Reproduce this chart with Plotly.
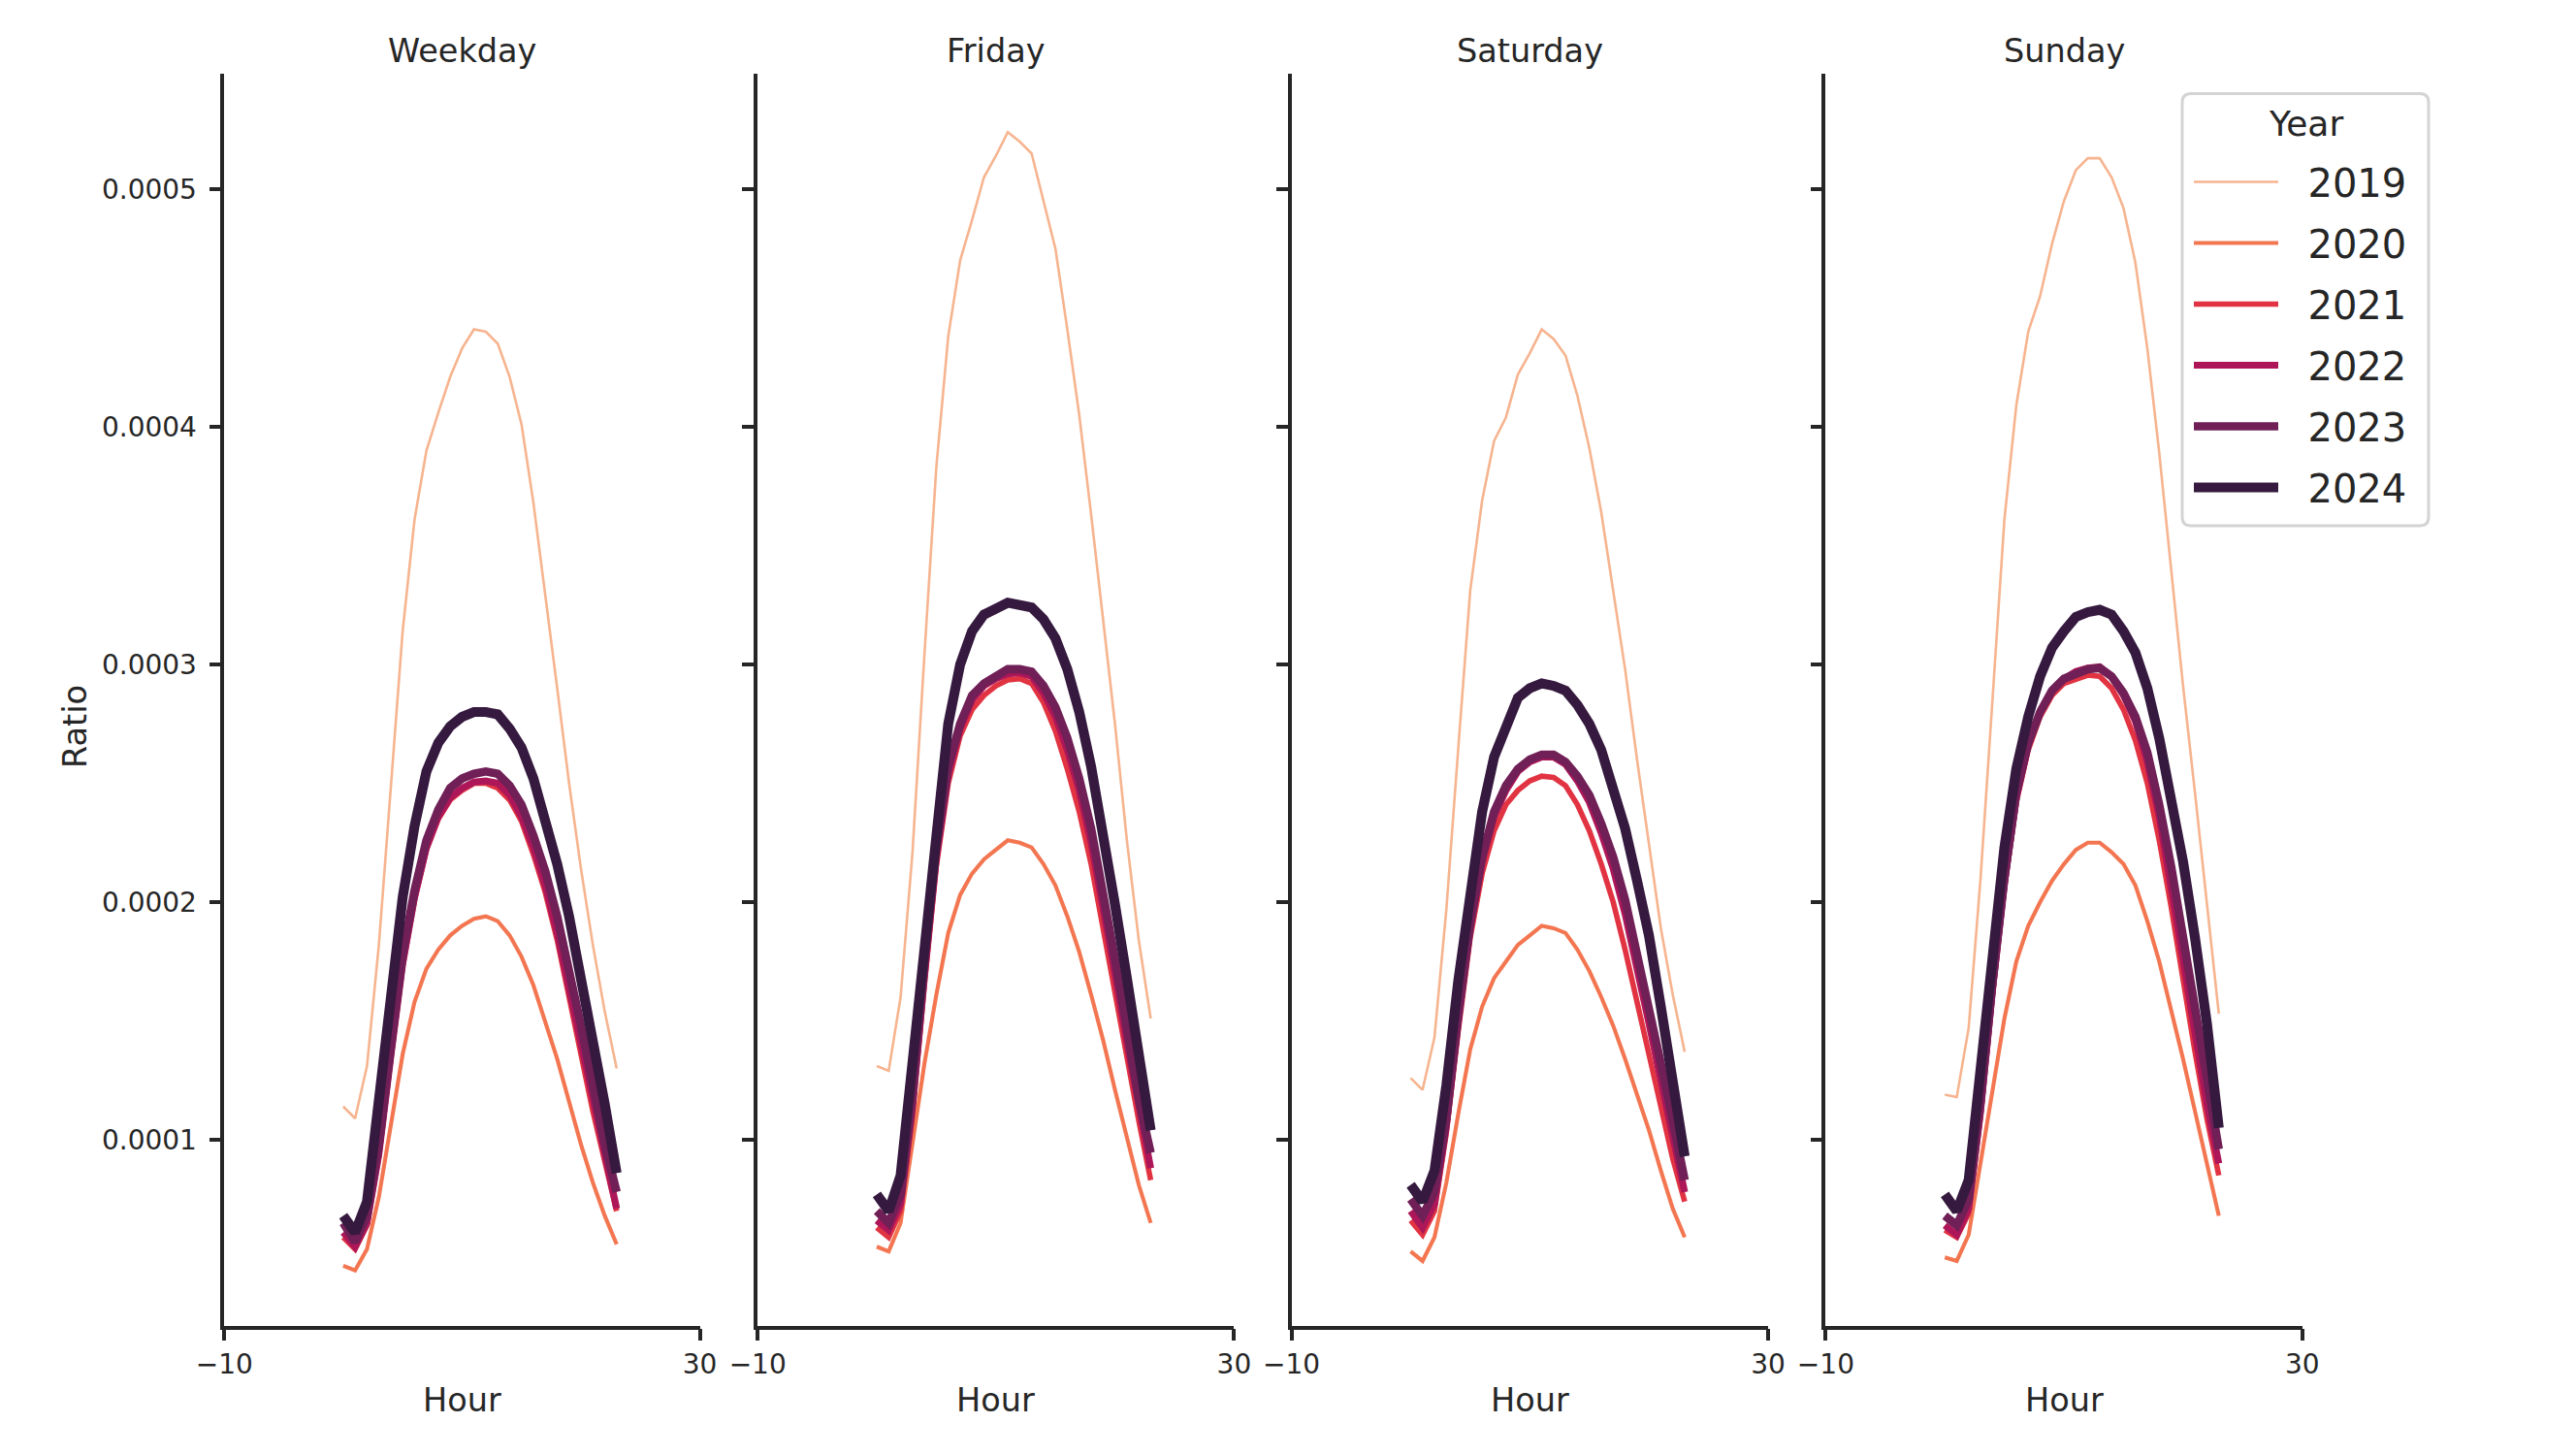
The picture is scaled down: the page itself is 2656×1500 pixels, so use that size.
import plotly.graph_objects as go

# ---------------- data (Ratio values in units of 1e-4) ----------------
SCALE = 1e-4
hours = list(range(24))
years = ["2019", "2020", "2021", "2022", "2023", "2024"]
panels = ["Weekday", "Friday", "Saturday", "Sunday"]

weekday_2019 = [1.14, 1.09, 1.31, 1.82, 2.48, 3.14, 3.61, 3.90, 4.06, 4.21, 4.33, 4.41, 4.40, 4.35, 4.21, 4.01, 3.68, 3.30, 2.90, 2.50, 2.14, 1.82, 1.54, 1.30]
weekday_2020 = [0.47, 0.45, 0.54, 0.76, 1.06, 1.36, 1.58, 1.72, 1.80, 1.86, 1.90, 1.93, 1.94, 1.92, 1.86, 1.77, 1.65, 1.50, 1.34, 1.16, 0.98, 0.82, 0.68, 0.56]
weekday_2021 = [0.59, 0.54, 0.64, 0.93, 1.34, 1.73, 2.01, 2.22, 2.35, 2.43, 2.47, 2.50, 2.50, 2.48, 2.43, 2.34, 2.20, 2.04, 1.84, 1.61, 1.36, 1.12, 0.90, 0.70]
weekday_2022 = [0.61, 0.55, 0.65, 0.94, 1.35, 1.74, 2.02, 2.23, 2.36, 2.44, 2.48, 2.505, 2.51, 2.50, 2.45, 2.36, 2.23, 2.07, 1.87, 1.64, 1.39, 1.15, 0.92, 0.71]
weekday_2023 = [0.65, 0.57, 0.68, 0.98, 1.39, 1.78, 2.05, 2.26, 2.39, 2.48, 2.52, 2.54, 2.55, 2.54, 2.49, 2.41, 2.28, 2.13, 1.94, 1.72, 1.48, 1.23, 0.98, 0.78]
weekday_2024 = [0.68, 0.61, 0.74, 1.15, 1.59, 2.02, 2.32, 2.55, 2.67, 2.74, 2.78, 2.80, 2.80, 2.79, 2.73, 2.65, 2.52, 2.35, 2.16, 1.94, 1.69, 1.42, 1.15, 0.86]

friday_2019 = [1.31, 1.29, 1.60, 2.21, 3.04, 3.83, 4.38, 4.70, 4.87, 5.05, 5.14, 5.24, 5.20, 5.15, 4.95, 4.75, 4.41, 4.05, 3.63, 3.18, 2.75, 2.26, 1.84, 1.51]
friday_2020 = [0.55, 0.53, 0.65, 0.99, 1.32, 1.61, 1.87, 2.03, 2.12, 2.18, 2.22, 2.26, 2.25, 2.23, 2.16, 2.07, 1.94, 1.79, 1.61, 1.42, 1.21, 1.01, 0.81, 0.65]
friday_2021 = [0.63, 0.59, 0.70, 1.10, 1.65, 2.15, 2.50, 2.70, 2.81, 2.87, 2.91, 2.935, 2.94, 2.92, 2.84, 2.72, 2.56, 2.38, 2.16, 1.90, 1.62, 1.35, 1.08, 0.83]
friday_2022 = [0.66, 0.62, 0.73, 1.14, 1.69, 2.19, 2.54, 2.73, 2.85, 2.91, 2.94, 2.96, 2.965, 2.95, 2.88, 2.78, 2.64, 2.47, 2.25, 1.99, 1.70, 1.41, 1.13, 0.88]
friday_2023 = [0.70, 0.65, 0.77, 1.19, 1.74, 2.23, 2.57, 2.75, 2.87, 2.92, 2.95, 2.98, 2.98, 2.97, 2.91, 2.82, 2.69, 2.52, 2.31, 2.05, 1.76, 1.47, 1.17, 0.945]
friday_2024 = [0.77, 0.70, 0.85, 1.32, 1.81, 2.31, 2.75, 3.00, 3.14, 3.21, 3.24, 3.26, 3.25, 3.24, 3.19, 3.11, 2.98, 2.80, 2.57, 2.30, 1.99, 1.68, 1.37, 1.04]

saturday_2019 = [1.26, 1.21, 1.43, 1.97, 2.65, 3.31, 3.69, 3.94, 4.04, 4.22, 4.31, 4.41, 4.37, 4.30, 4.13, 3.91, 3.64, 3.31, 2.98, 2.60, 2.24, 1.89, 1.61, 1.37]
saturday_2020 = [0.53, 0.49, 0.59, 0.82, 1.11, 1.38, 1.56, 1.68, 1.75, 1.82, 1.86, 1.90, 1.89, 1.87, 1.80, 1.71, 1.60, 1.48, 1.34, 1.19, 1.04, 0.87, 0.71, 0.59]
saturday_2021 = [0.66, 0.60, 0.70, 1.03, 1.46, 1.85, 2.12, 2.30, 2.41, 2.47, 2.51, 2.53, 2.525, 2.49, 2.41, 2.30, 2.16, 2.00, 1.80, 1.58, 1.35, 1.12, 0.92, 0.74]
saturday_2022 = [0.70, 0.63, 0.73, 1.06, 1.50, 1.89, 2.17, 2.36, 2.47, 2.55, 2.59, 2.61, 2.61, 2.58, 2.51, 2.42, 2.29, 2.14, 1.95, 1.73, 1.49, 1.25, 1.01, 0.78]
saturday_2023 = [0.75, 0.68, 0.78, 1.09, 1.53, 1.91, 2.19, 2.38, 2.49, 2.56, 2.60, 2.62, 2.62, 2.59, 2.53, 2.45, 2.33, 2.19, 2.01, 1.79, 1.56, 1.32, 1.08, 0.83]
saturday_2024 = [0.81, 0.74, 0.87, 1.23, 1.67, 2.05, 2.38, 2.61, 2.75, 2.86, 2.90, 2.92, 2.91, 2.89, 2.83, 2.75, 2.64, 2.49, 2.31, 2.09, 1.86, 1.56, 1.26, 0.93]

sunday_2019 = [1.19, 1.18, 1.47, 2.10, 2.85, 3.61, 4.09, 4.40, 4.55, 4.77, 4.95, 5.08, 5.13, 5.13, 5.05, 4.92, 4.69, 4.33, 3.89, 3.40, 2.91, 2.46, 2.00, 1.53]
sunday_2020 = [0.505, 0.49, 0.60, 0.91, 1.22, 1.51, 1.75, 1.90, 2.00, 2.09, 2.16, 2.22, 2.25, 2.25, 2.21, 2.16, 2.07, 1.92, 1.75, 1.55, 1.34, 1.12, 0.90, 0.68]
sunday_2021 = [0.62, 0.59, 0.69, 1.10, 1.61, 2.06, 2.42, 2.64, 2.78, 2.87, 2.92, 2.94, 2.955, 2.95, 2.90, 2.81, 2.68, 2.50, 2.26, 1.98, 1.67, 1.37, 1.09, 0.85]
sunday_2022 = [0.64, 0.60, 0.71, 1.12, 1.63, 2.08, 2.44, 2.66, 2.80, 2.89, 2.94, 2.97, 2.985, 2.99, 2.95, 2.87, 2.76, 2.59, 2.36, 2.08, 1.76, 1.45, 1.15, 0.90]
sunday_2023 = [0.68, 0.64, 0.75, 1.16, 1.66, 2.10, 2.46, 2.67, 2.80, 2.89, 2.94, 2.96, 2.98, 2.985, 2.95, 2.88, 2.78, 2.63, 2.41, 2.15, 1.84, 1.53, 1.23, 0.96]
sunday_2024 = [0.77, 0.70, 0.83, 1.29, 1.81, 2.23, 2.56, 2.78, 2.95, 3.07, 3.14, 3.20, 3.22, 3.23, 3.21, 3.14, 3.05, 2.90, 2.69, 2.44, 2.17, 1.85, 1.49, 1.05]

x_tick_vals = [-10, 30]
x_tick_text = ["\u221210", "30"]
y_tick_vals = [0.0001, 0.0002, 0.0003, 0.0004, 0.0005]
y_tick_text = ["0.0001", "0.0002", "0.0003", "0.0004", "0.0005"]

series = {
    "Weekday": [weekday_2019, weekday_2020, weekday_2021, weekday_2022, weekday_2023, weekday_2024],
    "Friday": [friday_2019, friday_2020, friday_2021, friday_2022, friday_2023, friday_2024],
    "Saturday": [saturday_2019, saturday_2020, saturday_2021, saturday_2022, saturday_2023, saturday_2024],
    "Sunday": [sunday_2019, sunday_2020, sunday_2021, sunday_2022, sunday_2023, sunday_2024],
}

# ---------------- style ----------------
colors = ["#f6b48f", "#f37651", "#e13342", "#ad1759", "#701f57", "#35193e"]
widths = [2.6, 4.1, 5.6, 7.1, 8.6, 10.2]
INK = "#262626"
FONT = "DejaVu Sans"
W, H = 2656, 1500
OFF = 8                      # default page body margin
FW, FH = W - 2 * OFF, H - 2 * OFF
DX = 2                       # small horizontal correction


def px_x(x):
    return (x + DX - OFF) / FW


def px_y(y):
    return 1 - (y - OFF) / FH


x_domains_px = [(229.3, 719.6), (779.2, 1270.4), (1329.6, 1821.0), (1880.4, 2371.7)]
y_top_px, y_bot_px = 76.2, 1366.7
y_range = [0.00002176, 0.0005485]

fig = go.Figure()

for pi, panel in enumerate(panels):
    ax = "" if pi == 0 else str(pi + 1)
    for yi, year in enumerate(years):
        vals = [v * SCALE for v in series[panel][yi]]
        fig.add_trace(go.Scatter(
            x=hours, y=vals, mode="lines",
            name="\u00a0\u00a0" + year, legendgroup=year, showlegend=(pi == 0),
            line=dict(color=colors[yi], width=widths[yi]),
            xaxis="x" + ax, yaxis="y" + ax,
        ))

layout = dict(
    width=FW, height=FH,
    margin=dict(l=0, r=0, t=0, b=0, pad=0, autoexpand=False),
    paper_bgcolor="white", plot_bgcolor="white",
    font=dict(family=FONT, color=INK, size=28),
    showlegend=True,
    legend=dict(
        font=dict(size=40, family=FONT, color=INK),
        x=px_x(2255), y=px_y(155), xanchor="left", yanchor="top",
        borderwidth=0, bgcolor="rgba(0,0,0,0)",
        tracegroupgap=8, itemwidth=87,
    ),
)

annotations = []
for pi, panel in enumerate(panels):
    ax = "" if pi == 0 else str(pi + 1)
    x0, x1 = x_domains_px[pi]
    layout["xaxis" + ax] = dict(
        domain=[px_x(x0), px_x(x1)], anchor="y" + ax,
        range=[-10, 30], tickvals=x_tick_vals, ticktext=x_tick_text,
        showline=True, linecolor=INK, linewidth=3.5,
        ticks="outside", ticklen=12, tickwidth=3.5, tickcolor=INK,
        showgrid=False, zeroline=False, automargin=False,
        tickfont=dict(size=28, family=FONT, color=INK),
    )
    layout["yaxis" + ax] = dict(
        domain=[px_y(y_bot_px), px_y(y_top_px)], anchor="x" + ax,
        range=y_range, tickvals=y_tick_vals, ticktext=y_tick_text,
        showticklabels=(pi == 0),
        showline=True, linecolor=INK, linewidth=3.5,
        ticks="outside", ticklen=12, tickwidth=3.5, tickcolor=INK,
        ticklabelstandoff=7,
        showgrid=False, zeroline=False, automargin=False,
        tickfont=dict(size=28, family=FONT, color=INK),
    )
    cx = px_x((x0 + x1) / 2)
    annotations.append(dict(text=panel, x=cx, y=px_y(52.5), xref="paper", yref="paper",
                            xanchor="center", yanchor="middle", showarrow=False,
                            font=dict(size=33.5, family=FONT, color=INK)))
    annotations.append(dict(text="Hour", x=cx, y=px_y(1443), xref="paper", yref="paper",
                            xanchor="center", yanchor="middle", showarrow=False,
                            font=dict(size=33.5, family=FONT, color=INK)))

annotations.append(dict(text="Ratio", x=px_x(76), y=px_y(749), xref="paper", yref="paper",
                        xanchor="center", yanchor="middle", showarrow=False, textangle=-90,
                        font=dict(size=33.5, family=FONT, color=INK)))
# legend title
annotations.append(dict(text="Year", x=px_x(2375), y=px_y(127), xref="paper", yref="paper",
                        xanchor="center", yanchor="middle", showarrow=False,
                        font=dict(size=36, family=FONT, color=INK)))
layout["annotations"] = annotations

# legend frame (rounded rectangle)
L, R, T, B, rad = 2248, 2502, 96.5, 542, 9
path = (
    f"M {px_x(L + rad)},{px_y(T)} L {px_x(R - rad)},{px_y(T)} "
    f"Q {px_x(R)},{px_y(T)} {px_x(R)},{px_y(T + rad)} "
    f"L {px_x(R)},{px_y(B - rad)} Q {px_x(R)},{px_y(B)} {px_x(R - rad)},{px_y(B)} "
    f"L {px_x(L + rad)},{px_y(B)} Q {px_x(L)},{px_y(B)} {px_x(L)},{px_y(B - rad)} "
    f"L {px_x(L)},{px_y(T + rad)} Q {px_x(L)},{px_y(T)} {px_x(L + rad)},{px_y(T)} Z"
)
layout["shapes"] = [dict(type="path", path=path, xref="paper", yref="paper",
                         line=dict(color="#d4d4d4", width=3), fillcolor="rgba(255,255,255,0.8)",
                         layer="below")]

fig.update_layout(**layout)
fig.write_html("out.html")
